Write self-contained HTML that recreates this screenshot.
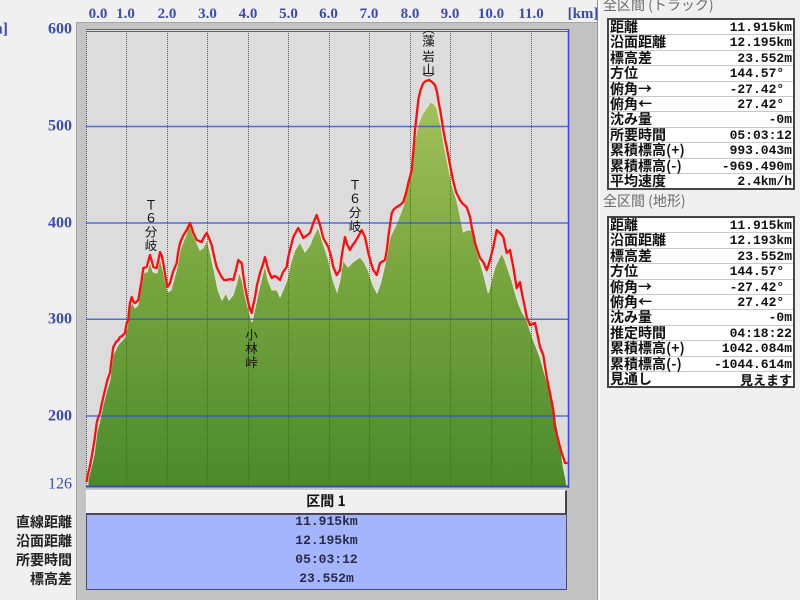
<!DOCTYPE html>
<html><head><meta charset="utf-8">
<style>
html,body{margin:0;padding:0;}
body{width:800px;height:600px;background:#f0f0f0;position:relative;overflow:hidden;font-family:"Liberation Sans","Noto Sans CJK JP",sans-serif;}
.abs{position:absolute;}
.hdr{position:absolute;left:603px;font-size:14px;line-height:16px;color:#6a6a6a;white-space:nowrap;font-family:"Noto Sans CJK JP",sans-serif;}
.tbl{position:absolute;left:607px;width:184px;border:2px solid #454545;background:#fff;}
.row{height:14.4px;border-bottom:1px solid #c8c8c8;position:relative;background:#fff;}
.row:last-child{border-bottom:none;}
.row .l{position:absolute;left:1px;top:-1px;font-family:"Noto Sans CJK JP",sans-serif;font-weight:bold;font-size:14px;line-height:16px;color:#111;white-space:nowrap;}
.row .v{position:absolute;right:1px;top:0px;font-family:"Liberation Mono","Noto Sans CJK JP",monospace;font-weight:bold;font-size:13px;line-height:15px;color:#111;white-space:pre;}
.bl{position:absolute;right:728px;font-family:"Noto Sans CJK JP",sans-serif;font-weight:bold;font-size:14px;line-height:16px;color:#222;white-space:nowrap;}
.bv{position:absolute;left:86px;width:481px;text-align:center;font-family:"Liberation Mono",monospace;font-weight:bold;font-size:13px;line-height:15px;color:#2a2a48;}
</style></head>
<body>
<svg class="abs" style="left:0;top:0" width="800" height="600" xmlns="http://www.w3.org/2000/svg">
<defs>
<linearGradient id="g" x1="0" y1="100" x2="0" y2="487" gradientUnits="userSpaceOnUse">
<stop offset="0" stop-color="#a3c15b"/>
<stop offset="0.45" stop-color="#78a63f"/>
<stop offset="1" stop-color="#4a8a2c"/>
</linearGradient>
</defs>
<!-- chart frame -->
<rect x="76" y="22" width="521" height="578" fill="#c3c3c3"/>
<line x1="76.5" y1="22" x2="76.5" y2="600" stroke="#a0a0a0" stroke-width="1"/>
<line x1="76" y1="22.5" x2="597" y2="22.5" stroke="#a8a8a8" stroke-width="1"/>
<line x1="597.5" y1="0" x2="597.5" y2="600" stroke="#9a9a9a" stroke-width="1"/>
<line x1="599.5" y1="0" x2="599.5" y2="600" stroke="#ffffff" stroke-width="1"/>
<!-- plot bg -->
<rect x="86" y="29" width="483" height="458" fill="#dcdcdc"/>
<!-- terrain -->
<polygon fill="url(#g)" stroke="#e6e8d8" stroke-width="1" points="88,487 88,480 91,468 94,455 97,432 100,420 103,405 107,390 110,380 113,355 118,345 125,337 127,328 130,308 132,302 135,308 138,305 141,288 144,272 147,272 150,262 153,272 157,273 160,258 163,270 166,285 168,292 171,290 177,268 180,250 186,235 189,222 193,235 197,243 200,250 203,248 207,240 210,252 214,270 218,290 222,300 226,293 229,300 233,295 237,282 239,272 242,280 246,300 250,315 252,322 255,308 260,285 265,265 268,280 272,290 277,290 280,297 283,290 287,280 291,262 295,250 300,242 305,252 310,245 313,237 318,227 323,243 328,258 333,280 337,292 340,280 343,260 348,267 353,262 360,257 364,262 368,270 373,285 377,293 380,285 383,273 387,255 390,237 396,225 403,207 407,190 410,170 413,150 418,125 422,115 425,110 428,106 430,101.7 434,104 436.7,107 439,118 441.7,130 444,145 447,160 452,185 456.7,200 460,215 461.7,223 463.3,232 467,230 471.7,230 476.7,250 480,262 483.3,273 488.3,293 491,282 495,267 501.7,253 505,260 508.3,270 511.7,280 515,292 518.3,303 522,312 526.7,320 530,330 533.3,340 540,357 545,375 550,393 555,415 558.3,433 561,450 563.3,467 566,480 567,487"/>
<!-- grid -->
<g stroke="#2f45ee" stroke-width="1" stroke-dasharray="1,1" opacity="0.9">
<line x1="126.5" y1="31" x2="126.5" y2="486"/>
<line x1="167.5" y1="31" x2="167.5" y2="486"/>
<line x1="207.5" y1="31" x2="207.5" y2="486"/>
<line x1="248.5" y1="31" x2="248.5" y2="486"/>
<line x1="288.5" y1="31" x2="288.5" y2="486"/>
<line x1="329.5" y1="31" x2="329.5" y2="486"/>
<line x1="369.5" y1="31" x2="369.5" y2="486"/>
<line x1="410.5" y1="31" x2="410.5" y2="486"/>
<line x1="450.5" y1="31" x2="450.5" y2="486"/>
<line x1="491.5" y1="31" x2="491.5" y2="486"/>
<line x1="531.5" y1="31" x2="531.5" y2="486"/>
</g>
<g stroke="#3a4fd8" stroke-width="1.5" opacity="0.8">
<line x1="86" y1="126.5" x2="569" y2="126.5"/>
<line x1="86" y1="223" x2="569" y2="223"/>
<line x1="86" y1="319.3" x2="569" y2="319.3"/>
<line x1="86" y1="416" x2="569" y2="416"/>
</g>
<!-- plot frame -->
<line x1="86" y1="29.5" x2="569" y2="29.5" stroke="#4a5ad8" stroke-width="1"/>
<line x1="86" y1="31.5" x2="569" y2="31.5" stroke="#4a5ad8" stroke-width="1"/>
<line x1="86.5" y1="29" x2="86.5" y2="487" stroke="#3a4ad8" stroke-width="1" stroke-dasharray="1,1"/>
<line x1="568.5" y1="29" x2="568.5" y2="488" stroke="#3a4ad8" stroke-width="1.5"/>
<line x1="86" y1="486.5" x2="569" y2="486.5" stroke="#3a4ab8" stroke-width="2"/>
<!-- track -->
<polyline fill="none" stroke="#ff0d0d" stroke-width="2.3" stroke-linejoin="round" points="86.5,482 88,474 89.5,468 91.7,457 93,449 94.5,440 96.7,423 98,418 100,413 101.5,405 103.3,397 105,390 106.7,383 108,378 110,373 111.5,360 113.3,347 116,342 118.3,340 120,337 122,336 125,333 126.7,323 128.3,320 129,311 130,303 131.7,297 133.5,302 135,303 138.3,300 140,290 141.7,280 143.3,268 146.7,267 148,262 150,255 151.5,260 153.3,267 156.7,268 158,262 160,252 161.5,255 163.3,263 165,274 167.3,287 170,283 173,272 176.7,263 178,253 180,243 183,236 186.7,230 190,223 191.5,227 193.3,233 196.7,240 199,241 201.7,242 204,237 206.7,233 209,238 211.7,245 214,256 216.7,267 219,272 221.7,277 224,280 226.7,280 230,279 233.3,280 236,270 238.3,260 241.7,263 243,273 245,287 248.3,303 250,309 251.7,313 253,306 255,297 257,285 260,273 263,264 265,257 268.3,270 271.7,278 274,276 276.7,277 280,280 283,272 286.7,267 288,258 290,250 293.3,237 296,232 298.3,228 301,233 303.3,238 306,236 310,233 313.3,223 316.7,215 318,219 320,225 323.3,238 326,243 328.3,247 331,256 333.3,267 336.7,275 340,270 342,254 345,237 347,244 350,250 352,246 355,242 358,237 361.7,230 365,237 368.3,253 371,263 373.3,270 376.7,275 380,263 385,260 387,249 388.3,237 390,225 391.7,213 394,209 396.7,207 400,205 403.3,202 406,193 408.3,183 411.7,170 413.5,150 415,130 416.7,115 418.3,100 420.5,90 423.3,83 426,81 429.3,80 432,82 435,85 437,92 438.3,100 441,115 443.3,130 445,139 446.7,147 450,165 453,180 456,192 460,200 463,204 466.7,207 470,217 471.7,227 473.5,235 475,243 478,252 480,258 483.3,262 486.7,270 488.5,265 490,260 493.3,247 496.7,230 500,233 503.3,237 505,245 506.7,253 510,250 511.5,258 513.3,267 516.7,288 520,282 521.5,291 523.3,300 525,308 526.7,317 530,325 532,324 535,323 537.5,335 540,347 543.3,355 545,366 546.7,377 550,393 553.3,410 555,427 558.3,440 560,447 561.7,453 563.5,458 565,463 567.7,463"/>
<!-- plot labels -->
<g font-family="'Noto Sans CJK JP', sans-serif" font-size="12.5" fill="#111" text-anchor="middle">
<text x="151" y="209.5">Ｔ</text>
<text x="151" y="222.5">６</text>
<text x="151" y="236.5">分</text>
<text x="151" y="250">岐</text>
<text x="355" y="189.5">Ｔ</text>
<text x="355" y="203">６</text>
<text x="355" y="217">分</text>
<text x="355" y="231">岐</text>
<text x="251.5" y="339.5">小</text>
<text x="251.5" y="353">林</text>
<text x="251.5" y="367">峠</text>
<text x="428.5" y="33">︵</text>
<text x="428.5" y="45.5">藻</text>
<text x="428.5" y="61">岩</text>
<text x="428.5" y="74">山</text>
<text x="428.5" y="84">︶</text>
</g>
<!-- x axis labels -->
<g font-family="'Liberation Serif', serif" font-weight="bold" font-size="15" fill="#3a4ab8" text-anchor="middle">
<text x="98" y="18">0.0</text>
<text x="125.5" y="18">1.0</text>
<text x="167" y="18">2.0</text>
<text x="207.5" y="18">3.0</text>
<text x="248" y="18">4.0</text>
<text x="288.5" y="18">5.0</text>
<text x="328.5" y="18">6.0</text>
<text x="369" y="18">7.0</text>
<text x="410" y="18">8.0</text>
<text x="450" y="18">9.0</text>
<text x="491" y="18">10.0</text>
<text x="531" y="18">11.0</text>
<text x="583" y="18">[km]</text>
</g>
<!-- y axis labels -->
<g font-family="'Liberation Serif', serif" font-weight="bold" font-size="16" fill="#3a4ab8" text-anchor="end">
<text x="8" y="33.5">[m]</text>
<text x="72" y="33.5">600</text>
<text x="72" y="130.5">500</text>
<text x="72" y="227.5">400</text>
<text x="72" y="323.5">300</text>
<text x="72" y="420.5">200</text>
<text x="72" y="488.5" font-weight="normal">126</text>
</g>
</svg>

<!-- section bar -->
<div class="abs" style="left:86px;top:490px;width:479px;height:22px;background:#f0f0f0;border-top:1px solid #fafafa;border-right:2px solid #454545;border-bottom:1px solid #454545;"></div>
<div class="abs" style="left:86px;top:493px;width:480px;text-align:center;font-weight:bold;font-size:14px;line-height:16px;color:#111;font-family:'Noto Sans CJK JP',sans-serif;">区間 1</div>
<div class="abs" style="left:86px;top:514px;width:479px;height:74px;background:#a5b5fd;border:1px solid #4a4a68;"></div>
<div class="bv" style="top:514px;">11.915km</div>
<div class="bv" style="top:533px;">12.195km</div>
<div class="bv" style="top:552px;">05:03:12</div>
<div class="bv" style="top:571px;">23.552m</div>

<div class="bl" style="top:514px;">直線距離</div>
<div class="bl" style="top:533px;">沿面距離</div>
<div class="bl" style="top:552px;">所要時間</div>
<div class="bl" style="top:571px;">標高差</div>

<!-- right panel -->
<div class="hdr" style="top:-3px;">全区間 (トラック)</div>
<div class="tbl" style="top:18px;">
<div class="row"><span class="l">距離</span><span class="v">11.915km</span></div>
<div class="row"><span class="l">沿面距離</span><span class="v">12.195km</span></div>
<div class="row"><span class="l">標高差</span><span class="v">23.552m</span></div>
<div class="row"><span class="l">方位</span><span class="v">144.57° </span></div>
<div class="row"><span class="l">俯角→</span><span class="v">-27.42° </span></div>
<div class="row"><span class="l">俯角←</span><span class="v">27.42° </span></div>
<div class="row"><span class="l">沈み量</span><span class="v">-0m</span></div>
<div class="row"><span class="l">所要時間</span><span class="v">05:03:12</span></div>
<div class="row"><span class="l">累積標高(+)</span><span class="v">993.043m</span></div>
<div class="row"><span class="l">累積標高(-)</span><span class="v">-969.490m</span></div>
<div class="row"><span class="l">平均速度</span><span class="v">2.4km/h</span></div>
</div>

<div class="hdr" style="top:193px;">全区間 (地形)</div>
<div class="tbl" style="top:216px;">
<div class="row"><span class="l">距離</span><span class="v">11.915km</span></div>
<div class="row"><span class="l">沿面距離</span><span class="v">12.193km</span></div>
<div class="row"><span class="l">標高差</span><span class="v">23.552m</span></div>
<div class="row"><span class="l">方位</span><span class="v">144.57° </span></div>
<div class="row"><span class="l">俯角→</span><span class="v">-27.42° </span></div>
<div class="row"><span class="l">俯角←</span><span class="v">27.42° </span></div>
<div class="row"><span class="l">沈み量</span><span class="v">-0m</span></div>
<div class="row"><span class="l">推定時間</span><span class="v">04:18:22</span></div>
<div class="row"><span class="l">累積標高(+)</span><span class="v">1042.084m</span></div>
<div class="row"><span class="l">累積標高(-)</span><span class="v">-1044.614m</span></div>
<div class="row"><span class="l">見通し</span><span class="v" style="font-family:'Noto Sans CJK JP',sans-serif;font-size:13px;">見えます</span></div>
</div>
</body></html>
